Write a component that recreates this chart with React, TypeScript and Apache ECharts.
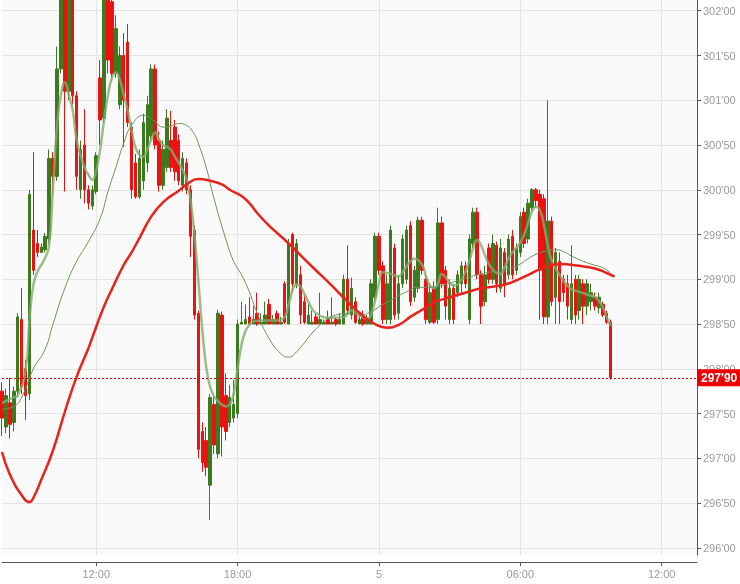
import React, { useEffect, useRef } from "react";
import * as echarts from "echarts";

// 10-minute slots from day 4, 08:00 to day 5, 13:30
const slotStartMinutes = 8 * 60;
const slotMinutes = 10;
const slotCount = 178;
const categories: string[] = [];
for (let i = 0; i < slotCount; i++) {
  const t = slotStartMinutes + i * slotMinutes;
  const day = 4 + Math.floor(t / 1440);
  const m = t % 1440;
  const hh = String(Math.floor(m / 60)).padStart(2, "0");
  const mm = String(m % 60).padStart(2, "0");
  categories.push(`${day} ${hh}:${mm}`);
}

// candles: [open, close, low, high]
const candles: number[][] = [
  [297.75, 297.45, 297.25, 297.85], [297.35, 297.7, 297.28, 297.78], [297.62, 297.38, 297.22, 297.9], [297.4, 297.75, 297.3, 297.8],
  [297.75, 298.58, 297.7, 298.62], [298.55, 297.8, 297.72, 298.9], [298.0, 297.7, 297.43, 298.1], [297.72, 299.95, 297.65, 300.0],
  [299.55, 299.1, 299.05, 300.42], [299.4, 299.3, 299.25, 299.55], [299.3, 299.36, 299.3, 299.4], [299.33, 299.48, 299.3, 299.52],
  [299.45, 300.35, 299.4, 300.45], [300.35, 300.15, 299.95, 300.42], [300.15, 301.35, 300.1, 301.6], [301.35, 302.2, 301.3, 302.3],
  [302.2, 301.1, 299.98, 302.3], [301.1, 302.2, 301.0, 302.3], [302.2, 301.05, 300.95, 302.3], [301.05, 300.15, 300.0, 301.1],
  [300.0, 300.45, 299.9, 300.55], [300.5, 300.0, 299.85, 300.9], [300.0, 299.85, 299.78, 300.05], [299.82, 300.0, 299.78, 300.05],
  [299.98, 300.38, 299.95, 300.42], [301.25, 300.78, 300.5, 301.45], [300.8, 302.2, 300.75, 302.3], [302.2, 301.45, 301.3, 302.3],
  [302.1, 301.3, 301.25, 302.25], [301.3, 301.8, 301.25, 301.95], [300.95, 301.5, 300.9, 301.6], [301.5, 301.0, 300.48, 301.75],
  [301.65, 300.75, 300.7, 301.85], [300.7, 300.0, 299.9, 300.75], [300.3, 299.92, 299.9, 300.4], [299.92, 300.35, 299.9, 300.45],
  [300.1, 300.75, 300.0, 300.85], [300.3, 300.95, 300.2, 301.05], [300.6, 301.35, 300.55, 301.4], [301.35, 300.5, 300.45, 301.4],
  [300.55, 300.05, 299.98, 300.65], [300.05, 300.45, 300.0, 300.55], [300.25, 300.8, 300.2, 300.9], [300.55, 300.25, 300.2, 300.88],
  [300.7, 300.2, 300.1, 300.78], [300.55, 300.1, 300.05, 300.62], [300.05, 300.35, 299.98, 300.42], [300.3, 300.0, 299.95, 300.35],
  [300.0, 299.48, 299.25, 300.05], [299.55, 298.6, 298.55, 299.6], [298.62, 297.1, 297.0, 298.65], [297.3, 296.95, 296.85, 297.4],
  [297.2, 296.9, 296.8, 297.35], [296.7, 297.68, 296.31, 297.72], [297.6, 297.15, 297.05, 297.7], [297.05, 298.62, 297.0, 298.66],
  [298.6, 297.35, 297.02, 298.64], [297.7, 297.3, 297.2, 297.95], [297.4, 297.68, 297.35, 297.82], [297.45, 297.6, 297.4, 297.88],
  [297.5, 298.5, 297.45, 298.55], [298.5, 298.52, 298.5, 298.75], [298.5, 298.55, 298.5, 298.72], [298.58, 298.5, 298.5, 298.8],
  [298.5, 298.55, 298.5, 298.7], [298.62, 298.5, 298.48, 298.85], [298.5, 298.52, 298.5, 298.62], [298.5, 298.6, 298.5, 298.75],
  [298.72, 298.5, 298.5, 298.78], [298.5, 298.55, 298.5, 298.6], [298.62, 298.5, 298.5, 298.65], [298.5, 298.52, 298.5, 298.58],
  [298.95, 298.52, 298.5, 298.98], [298.5, 299.4, 298.5, 299.45], [299.5, 298.95, 298.85, 299.52], [298.95, 299.4, 298.9, 299.45],
  [299.05, 298.6, 298.5, 299.15], [298.75, 298.52, 298.5, 298.82], [298.5, 298.6, 298.5, 298.72], [298.5, 298.52, 298.5, 298.65],
  [298.58, 298.5, 298.5, 298.62], [298.5, 298.55, 298.5, 298.85], [298.5, 298.52, 298.5, 298.55], [298.55, 298.5, 298.5, 298.65],
  [298.5, 298.52, 298.5, 298.8], [298.55, 298.5, 298.48, 298.58], [298.5, 298.55, 298.5, 298.62], [298.5, 299.0, 298.5, 299.05],
  [299.0, 298.65, 298.6, 299.38], [298.6, 298.9, 298.55, 299.02], [298.75, 298.52, 298.5, 298.8], [298.5, 298.55, 298.5, 298.62],
  [298.58, 298.5, 298.48, 298.65], [298.5, 298.55, 298.5, 298.6], [298.5, 298.95, 298.5, 299.0], [298.8, 299.48, 298.75, 299.52],
  [299.48, 299.1, 299.05, 299.52], [299.15, 298.55, 298.5, 299.2], [298.55, 298.95, 298.5, 299.05], [298.55, 299.55, 298.5, 299.6],
  [299.35, 298.6, 298.55, 299.4], [298.62, 298.95, 298.55, 299.05], [298.95, 299.45, 298.9, 299.5], [299.0, 299.55, 298.95, 299.6],
  [299.6, 298.75, 298.7, 299.65], [298.8, 299.1, 298.75, 299.15], [298.9, 299.66, 298.85, 299.7], [299.66, 299.1, 299.05, 299.7],
  [299.0, 298.55, 298.5, 299.05], [298.52, 298.85, 298.5, 298.95], [298.9, 298.52, 298.5, 298.98], [298.55, 299.63, 298.5, 299.8],
  [299.63, 298.95, 298.9, 299.7], [299.1, 298.7, 298.55, 299.15], [298.55, 298.9, 298.5, 299.0], [298.9, 298.55, 298.5, 298.95],
  [298.85, 299.05, 298.8, 299.1], [298.95, 299.15, 298.85, 299.2], [299.15, 298.95, 298.9, 299.2], [298.55, 299.45, 298.5, 299.5],
  [299.4, 299.75, 299.35, 299.8], [299.75, 299.05, 299.0, 299.8], [299.05, 298.7, 298.5, 299.1], [298.75, 299.05, 298.7, 299.15],
  [299.35, 299.0, 298.95, 299.4], [299.0, 299.4, 298.95, 299.5], [299.38, 298.95, 298.85, 299.42], [298.9, 299.35, 298.85, 299.45],
  [299.3, 298.95, 298.8, 299.35], [299.05, 299.45, 299.0, 299.5], [299.48, 299.05, 299.0, 299.55], [299.1, 299.35, 299.05, 299.4],
  [299.3, 299.7, 299.25, 299.75], [299.75, 299.4, 299.35, 299.8], [299.45, 299.85, 299.4, 299.9], [299.8, 300.0, 299.75, 300.02],
  [300.0, 299.88, 299.8, 300.02], [299.95, 299.1, 298.55, 300.0], [299.9, 298.58, 298.5, 299.95], [298.58, 299.65, 298.5, 301.0],
  [299.65, 298.75, 298.7, 299.7], [298.8, 299.3, 298.5, 299.35], [299.2, 298.75, 298.5, 299.3], [299.0, 298.85, 298.75, 299.05],
  [298.95, 298.7, 298.55, 299.05], [298.55, 298.95, 298.5, 299.38], [299.0, 298.6, 298.5, 299.05], [298.65, 299.0, 298.55, 299.05],
  [298.95, 298.7, 298.5, 299.0], [298.7, 298.95, 298.6, 299.0], [298.75, 298.85, 298.65, 298.95], [298.8, 298.7, 298.65, 298.85],
  [298.68, 298.8, 298.62, 298.85], [298.72, 298.6, 298.58, 298.75], [298.62, 298.52, 298.5, 298.65], [298.52, 297.9, 297.88, 298.55],
];

// moving averages as [slot index, value]
const fastAverage: number[][] = [
  [0, 297.62], [3, 297.68], [4, 297.7], [6, 297.99], [7, 298.55], [8, 298.94], [9, 299.08], [10, 299.16], [11, 299.24], [12, 299.38],
  [13, 300.03], [14, 300.7], [15, 301.06], [16, 301.2], [17, 301.06], [18, 300.89], [19, 300.56], [20, 300.39], [21, 300.25], [22, 300.17],
  [23, 300.11], [24, 300.22], [25, 300.45], [26, 300.78], [27, 301.06], [28, 301.25], [29, 301.31], [30, 301.23], [31, 301.06], [32, 300.89],
  [33, 300.67], [34, 300.47], [35, 300.39], [36, 300.37], [37, 300.45], [38, 300.56], [39, 300.64], [40, 300.56], [41, 300.5], [42, 300.48],
  [43, 300.45], [44, 300.37], [45, 300.3], [46, 300.22], [47, 300.12], [48, 299.89], [49, 299.5], [50, 298.99], [51, 298.44], [52, 298.02],
  [53, 297.8], [54, 297.69], [55, 297.64], [56, 297.6], [57, 297.58], [58, 297.6], [59, 297.72], [60, 298.0], [61, 298.27], [62, 298.42],
  [63, 298.49], [64, 298.53], [66, 298.54], [70, 298.54], [72, 298.58], [73, 298.72], [75, 298.94], [76, 298.92], [78, 298.75], [80, 298.62],
  [84, 298.57], [87, 298.58], [89, 298.65], [91, 298.6], [93, 298.56], [94, 298.6], [96, 298.95], [97, 299.08], [99, 299.06],
  [101, 299.03], [102, 299.08], [104, 299.2], [105, 299.23], [107, 299.16], [108, 299.03], [109, 298.93], [110, 298.9], [111, 298.95], [112, 299.06],
  [113, 299.02], [114, 298.96], [115, 298.93], [116, 298.94], [117, 298.99], [118, 299.08], [119, 299.2], [120, 299.35], [121, 299.44], [122, 299.38],
  [123, 299.27], [124, 299.17], [125, 299.11], [126, 299.07], [127, 299.06], [128, 299.13], [129, 299.23], [130, 299.3], [131, 299.35], [132, 299.41],
  [133, 299.5], [134, 299.63], [135, 299.76], [136, 299.81], [137, 299.77], [138, 299.61], [139, 299.38], [140, 299.21], [141, 299.12], [142, 299.05],
  [143, 298.98], [144, 298.93], [145, 298.89], [147, 298.86], [149, 298.83], [151, 298.8], [152, 298.76], [153, 298.69], [154, 298.58], [155, 298.48],
];

const mediumAverage: number[][] = [
  [0, 297.55], [3, 297.58], [5, 297.68], [8, 298.0], [11, 298.22], [13, 298.5], [16, 298.9], [19, 299.2], [22, 299.42], [25, 299.68],
  [27, 299.98], [29, 300.25], [31, 300.52], [33, 300.72], [36, 300.83], [39, 300.76], [41, 300.7], [43, 300.71], [45, 300.74],
  [47, 300.72], [49, 300.62], [50, 300.52], [52, 300.25], [54, 299.9], [57, 299.45], [59, 299.2], [61, 299.05], [63, 298.86], [65, 298.62],
  [68, 298.34], [71, 298.17], [73, 298.13], [75, 298.19], [77, 298.29], [79, 298.4], [81, 298.49], [83, 298.56], [85, 298.6], [88, 298.62],
  [91, 298.6], [94, 298.64], [97, 298.72], [100, 298.79], [103, 298.86], [106, 298.91], [109, 298.91], [112, 298.93], [115, 298.97], [118, 299.01],
  [121, 299.05], [124, 299.08], [127, 299.1], [130, 299.13], [132, 299.17], [134, 299.23], [136, 299.28], [138, 299.31], [141, 299.33], [143, 299.31],
  [145, 299.26], [147, 299.22], [150, 299.17], [153, 299.13], [155, 299.07],
];

const slowAverage: number[][] = [
  [0, 297.07], [2, 296.82], [5, 296.59], [7, 296.51], [8, 296.56], [10, 296.76], [13, 297.09], [16, 297.52], [19, 297.91], [22, 298.23],
  [24, 298.47], [26, 298.7], [28, 298.89], [31, 299.16], [33, 299.3], [35, 299.46], [38, 299.7], [41, 299.86], [45, 299.99], [47, 300.06],
  [50, 300.12], [53, 300.1], [56, 300.06], [58, 300.0], [61, 299.93], [63, 299.85], [65, 299.74], [68, 299.6], [73, 299.4], [79, 299.14],
  [84, 298.93], [88, 298.75], [92, 298.59], [95, 298.5], [98, 298.46], [101, 298.49], [104, 298.58], [107, 298.66], [110, 298.74], [114, 298.8],
  [118, 298.85], [122, 298.9], [127, 298.93], [130, 298.97], [134, 299.05], [138, 299.13], [142, 299.17], [147, 299.15], [151, 299.12], [154, 299.07],
  [156, 299.03],
];

const lastPrice = 297.9;
const yMin = 295.92;
const yMax = 302.12;

const priceFmt = (v: number) => v.toFixed(2).replace(".", "'");

const isMajorSlot = (_i: number, value: string) => {
  const time = String(value).split(" ")[1] || "";
  const [h, m] = time.split(":").map(Number);
  return m === 0 && h % 6 === 0;
};

const xLabelFmt = (value: string) => {
  const [day, time] = String(value).split(" ");
  return time === "00:00" ? day : time;
};

export default function App() {
  const ref = useRef<HTMLDivElement>(null);
  useEffect(() => {
    if (!ref.current) return;
    const chart = echarts.init(ref.current, undefined, { renderer: "svg" });
    const font = 'Arial, "Liberation Sans", sans-serif';
    chart.setOption({
      animation: false,
      textStyle: { fontFamily: font },
      grid: { left: 2, right: 43, top: 0, bottom: 29, show: true, backgroundColor: "#fafafa", borderWidth: 0 },
      xAxis: {
        type: "category",
        data: categories,
        boundaryGap: false,
        offset: 7,
        axisLine: { lineStyle: { color: "#555", width: 1 } },
        axisTick: { interval: isMajorSlot, length: 4, lineStyle: { color: "#555" } },
        axisLabel: { interval: isMajorSlot, formatter: xLabelFmt, color: "#999", fontSize: 11, fontFamily: font, margin: 6 },
        splitLine: { show: true, interval: isMajorSlot, lineStyle: { color: "#e4e4e4", width: 1 } },
      },
      yAxis: {
        type: "value",
        position: "right",
        min: yMin,
        max: yMax,
        splitNumber: 12,
        axisLine: { show: true, lineStyle: { color: "#555", width: 1 } },
        axisTick: { show: true, length: 4, lineStyle: { color: "#555" } },
        axisLabel: { formatter: priceFmt, color: "#999", fontSize: 11, fontFamily: font, margin: 6, showMinLabel: false, showMaxLabel: false },
        splitLine: { show: true, showMinLine: false, showMaxLine: false, lineStyle: { color: "#e4e4e4", width: 1 } },
      },
      series: [
        {
          type: "candlestick",
          data: candles,
          barWidth: 3,
          z: 3,
          itemStyle: { color: "#3c7a1e", color0: "#ee1111", borderColor: "#3c7a1e", borderColor0: "#ee1111", borderWidth: 1 },
          markLine: {
            silent: true,
            symbol: ["none", "none"],
            data: [{ yAxis: lastPrice }],
            lineStyle: { color: "#e00000", type: [2, 2], width: 1 },
            label: {
              show: true,
              position: "end",
              distance: 0,
              formatter: () => priceFmt(lastPrice),
              backgroundColor: "#ee0000",
              color: "#fff",
              fontWeight: "bold",
              fontSize: 12,
              lineHeight: 13,
              fontFamily: font,
              padding: [2, 4, 2, 4],
            },
          },
        },
        {
          type: "line",
          data: fastAverage,
          smooth: 0.5,
          showSymbol: false,
          z: 4,
          lineStyle: { color: "rgba(130,172,110,0.8)", width: 2.5 },
        },
        {
          type: "line",
          data: mediumAverage,
          smooth: 0.5,
          showSymbol: false,
          z: 4,
          lineStyle: { color: "#6a9558", width: 1 },
        },
        {
          type: "line",
          data: slowAverage,
          smooth: 0.5,
          showSymbol: false,
          z: 4,
          lineStyle: { color: "#e8231c", width: 2.5 },
        },
      ],
    });
    return () => chart.dispose();
  }, []);
  return <div ref={ref} style={{ position: "fixed", left: 0, top: 0, width: 740, height: 584 }} />;
}
